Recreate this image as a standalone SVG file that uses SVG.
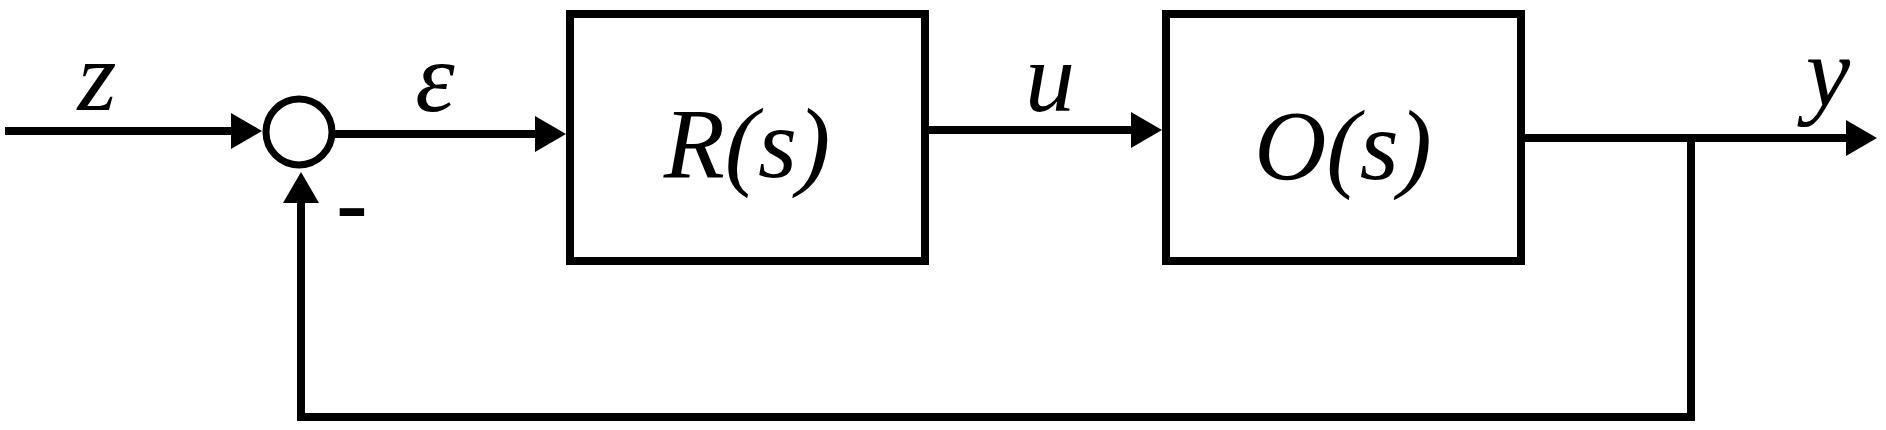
<svg xmlns="http://www.w3.org/2000/svg" width="1886" height="430" viewBox="0 0 1886 430">
  <defs>
    <marker id="arr" viewBox="0 0 31 36" refX="0" refY="18" markerWidth="31" markerHeight="36" markerUnits="userSpaceOnUse" orient="auto">
      <path d="M0,0 L31,18 L0,36 Z" fill="#000"/>
    </marker>
    <style>
      .ln { fill: none; stroke: #000; stroke-width: 8; }
      .box { fill: #fff; stroke: #000; stroke-width: 8; }
      .lbl { font-family: "Liberation Serif", serif; font-style: italic; font-size: 100px; fill: #000; text-anchor: middle; }
      .sgn { font-family: "Liberation Sans", sans-serif; font-size: 100px; fill: #000; text-anchor: middle; }
    </style>
  </defs>
  <rect width="1886" height="430" fill="#fff"/>
  <g id="connectors">
    <path class="ln" d="M5,131 H231" marker-end="url(#arr)"/>
    <path class="ln" d="M333,134 H535" marker-end="url(#arr)"/>
    <path class="ln" d="M929,130 H1131" marker-end="url(#arr)"/>
    <path class="ln" d="M1525,138 H1846" marker-end="url(#arr)"/>
    <path class="ln" d="M1691,138 V417 H301 V203" marker-end="url(#arr)"/>
  </g>
  <g id="sum">
    <circle cx="299" cy="132" r="33" fill="#fff" stroke="#000" stroke-width="7"/>
    <text class="sgn" x="352" y="239">-</text>
  </g>
  <g id="R">
    <rect class="box" x="570" y="14" width="355" height="247"/>
    <text class="lbl" x="747" y="177">R(s)</text>
  </g>
  <g id="O">
    <rect class="box" x="1166" y="14" width="355" height="247"/>
    <text class="lbl" x="1343" y="179">O(s)</text>
  </g>
  <g id="labels">
    <text class="lbl" x="97" y="110">z</text>
    <text class="lbl" x="435" y="111">ε</text>
    <text class="lbl" x="1050" y="111">u</text>
    <text class="lbl" x="1828" y="106">y</text>
  </g>
</svg>
